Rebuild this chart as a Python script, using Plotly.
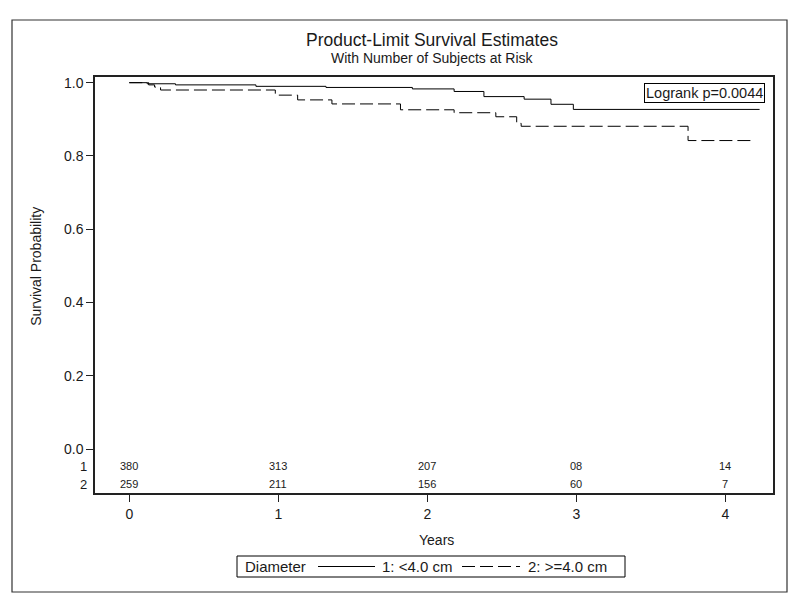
import plotly.graph_objects as go

# Kaplan-Meier step estimates
t_group1 = [0, 0.12, 0.31, 0.85, 1.32, 1.90, 2.18, 2.38, 2.65, 2.83, 2.98, 4.23]
s_group1 = [1.0, 0.997, 0.994, 0.990, 0.987, 0.983, 0.976, 0.962, 0.955, 0.941, 0.927, 0.927]

t_group2 = [0, 0.13, 0.17, 0.21, 0.98, 1.13, 1.36, 1.82, 2.18, 2.46, 2.60, 2.63, 3.75, 4.18]
s_group2 = [1.0, 0.994, 0.988, 0.980, 0.966, 0.953, 0.942, 0.926, 0.918, 0.907, 0.889, 0.881, 0.842, 0.842]

risk_times = [0, 1, 2, 3, 4]
risk_group1 = ["380", "313", "207", "08", "14"]
risk_group2 = ["259", "211", "156", "60", "7"]

group_names = ["1: <4.0 cm", "2: >=4.0 cm"]
legend_title = "Diameter"
y_ticks = [0.0, 0.2, 0.4, 0.6, 0.8, 1.0]
x_ticks = [0, 1, 2, 3, 4]

FONT = "Liberation Sans, Arial, sans-serif"
TXT = "#1a1a1a"
DASH = "13px,5px"

# screen geometry (page body offsets the figure by 8px)
OFF = 8
PL, PR, PT, PB = 95 - OFF, 773 - OFF, 77 - OFF, 493 - OFF
PW, PH = PR - PL, PB - PT


def px(x):
    return (x - OFF - PL) / PW


def py(y):
    return (PB - (y - OFF)) / PH


fig = go.Figure()
fig.add_trace(go.Scatter(x=t_group1, y=s_group1, mode="lines", line_shape="hv",
                         line=dict(color="black", width=1), name=group_names[0]))
fig.add_trace(go.Scatter(x=t_group2, y=s_group2, mode="lines", line_shape="hv",
                         line=dict(color="black", width=1, dash=DASH), name=group_names[1]))

ann = []
for t, v in zip(risk_times, risk_group1):
    ann.append(dict(x=t, y=-0.047, xref="x", yref="y", text=v, showarrow=False,
                    font=dict(size=11, family=FONT, color=TXT)))
for t, v in zip(risk_times, risk_group2):
    ann.append(dict(x=t, y=-0.096, xref="x", yref="y", text=v, showarrow=False,
                    font=dict(size=11, family=FONT, color=TXT)))
for lab, yy in zip(["1", "2"], [-0.047, -0.096]):
    ann.append(dict(x=px(89), y=yy, xref="paper", yref="y", text=lab, showarrow=False,
                    xanchor="right", font=dict(size=13, family=FONT, color=TXT)))
ann.append(dict(x=px(36), y=0.5, xref="paper", yref="y", text="Survival Probability",
                textangle=-90, showarrow=False, xanchor="center", yanchor="middle",
                font=dict(size=14, family=FONT, color=TXT)))
ann.append(dict(x=px(436), y=py(540), xref="paper", yref="paper", text="Years",
                showarrow=False, xanchor="center", yanchor="middle",
                font=dict(size=14, family=FONT, color=TXT)))
ann.append(dict(x=px(432), y=py(40), xref="paper", yref="paper",
                text="Product-Limit Survival Estimates", showarrow=False,
                xanchor="center", yanchor="middle", font=dict(size=17.5, family=FONT, color=TXT)))
ann.append(dict(x=px(432), y=py(58), xref="paper", yref="paper",
                text="With Number of Subjects at Risk", showarrow=False,
                xanchor="center", yanchor="middle", font=dict(size=14, family=FONT, color=TXT)))
ann.append(dict(x=px(765), y=py(83), xref="paper", yref="paper", xanchor="right", yanchor="top",
                text="Logrank p=0.0044", showarrow=False, bordercolor="black", borderwidth=1,
                borderpad=1, bgcolor="white", font=dict(size=14.5, family=FONT, color=TXT)))

# manual legend (SAS style)
leg_y = py(566.5)
ann.append(dict(x=px(243), y=leg_y, xref="paper", yref="paper", text=legend_title,
                showarrow=False, xanchor="left", yanchor="middle",
                font=dict(size=15, family=FONT, color=TXT)))
ann.append(dict(x=px(380), y=leg_y, xref="paper", yref="paper", text=group_names[0],
                showarrow=False, xanchor="left", yanchor="middle",
                font=dict(size=15, family=FONT, color=TXT)))
ann.append(dict(x=px(526), y=leg_y, xref="paper", yref="paper", text=group_names[1],
                showarrow=False, xanchor="left", yanchor="middle",
                font=dict(size=15, family=FONT, color=TXT)))

shapes = [
    dict(type="rect", xref="paper", yref="paper", x0=px(12), x1=px(787), y0=py(592), y1=py(20),
         line=dict(color="#333", width=1.2), fillcolor="rgba(0,0,0,0)"),
    dict(type="rect", xref="paper", yref="paper", x0=px(237), x1=px(625), y0=py(577), y1=py(556),
         line=dict(color="black", width=1), fillcolor="rgba(0,0,0,0)"),
    dict(type="line", xref="paper", yref="paper", x0=px(318), x1=px(375), y0=leg_y, y1=leg_y,
         line=dict(color="black", width=1)),
    dict(type="line", xref="paper", yref="paper", x0=px(462), x1=px(520), y0=leg_y, y1=leg_y,
         line=dict(color="black", width=1, dash=DASH)),
]

fig.update_layout(
    width=800, height=604,
    margin=dict(l=PL, r=800 - PR, t=PT, b=604 - PB),
    paper_bgcolor="white", plot_bgcolor="white",
    font=dict(family=FONT, size=14, color=TXT),
    annotations=ann,
    shapes=shapes,
    showlegend=False,
)
fig.update_xaxes(range=[-0.23, 4.32], tickvals=x_ticks, ticks="outside", ticklen=7,
                 tickcolor="#222", showline=True, linecolor="#222", linewidth=1.5,
                 mirror=True, showgrid=False, zeroline=False,
                 tickfont=dict(size=14, family=FONT, color=TXT))
fig.update_yaxes(range=[-0.12, 1.0155], tickvals=y_ticks, tickformat=".1f", ticks="outside",
                 ticklen=7, tickcolor="#222", showline=True, linecolor="#222", linewidth=1.5,
                 mirror=True, showgrid=False, zeroline=False,
                 tickfont=dict(size=14, family=FONT, color=TXT))

fig.write_html("out.html")
